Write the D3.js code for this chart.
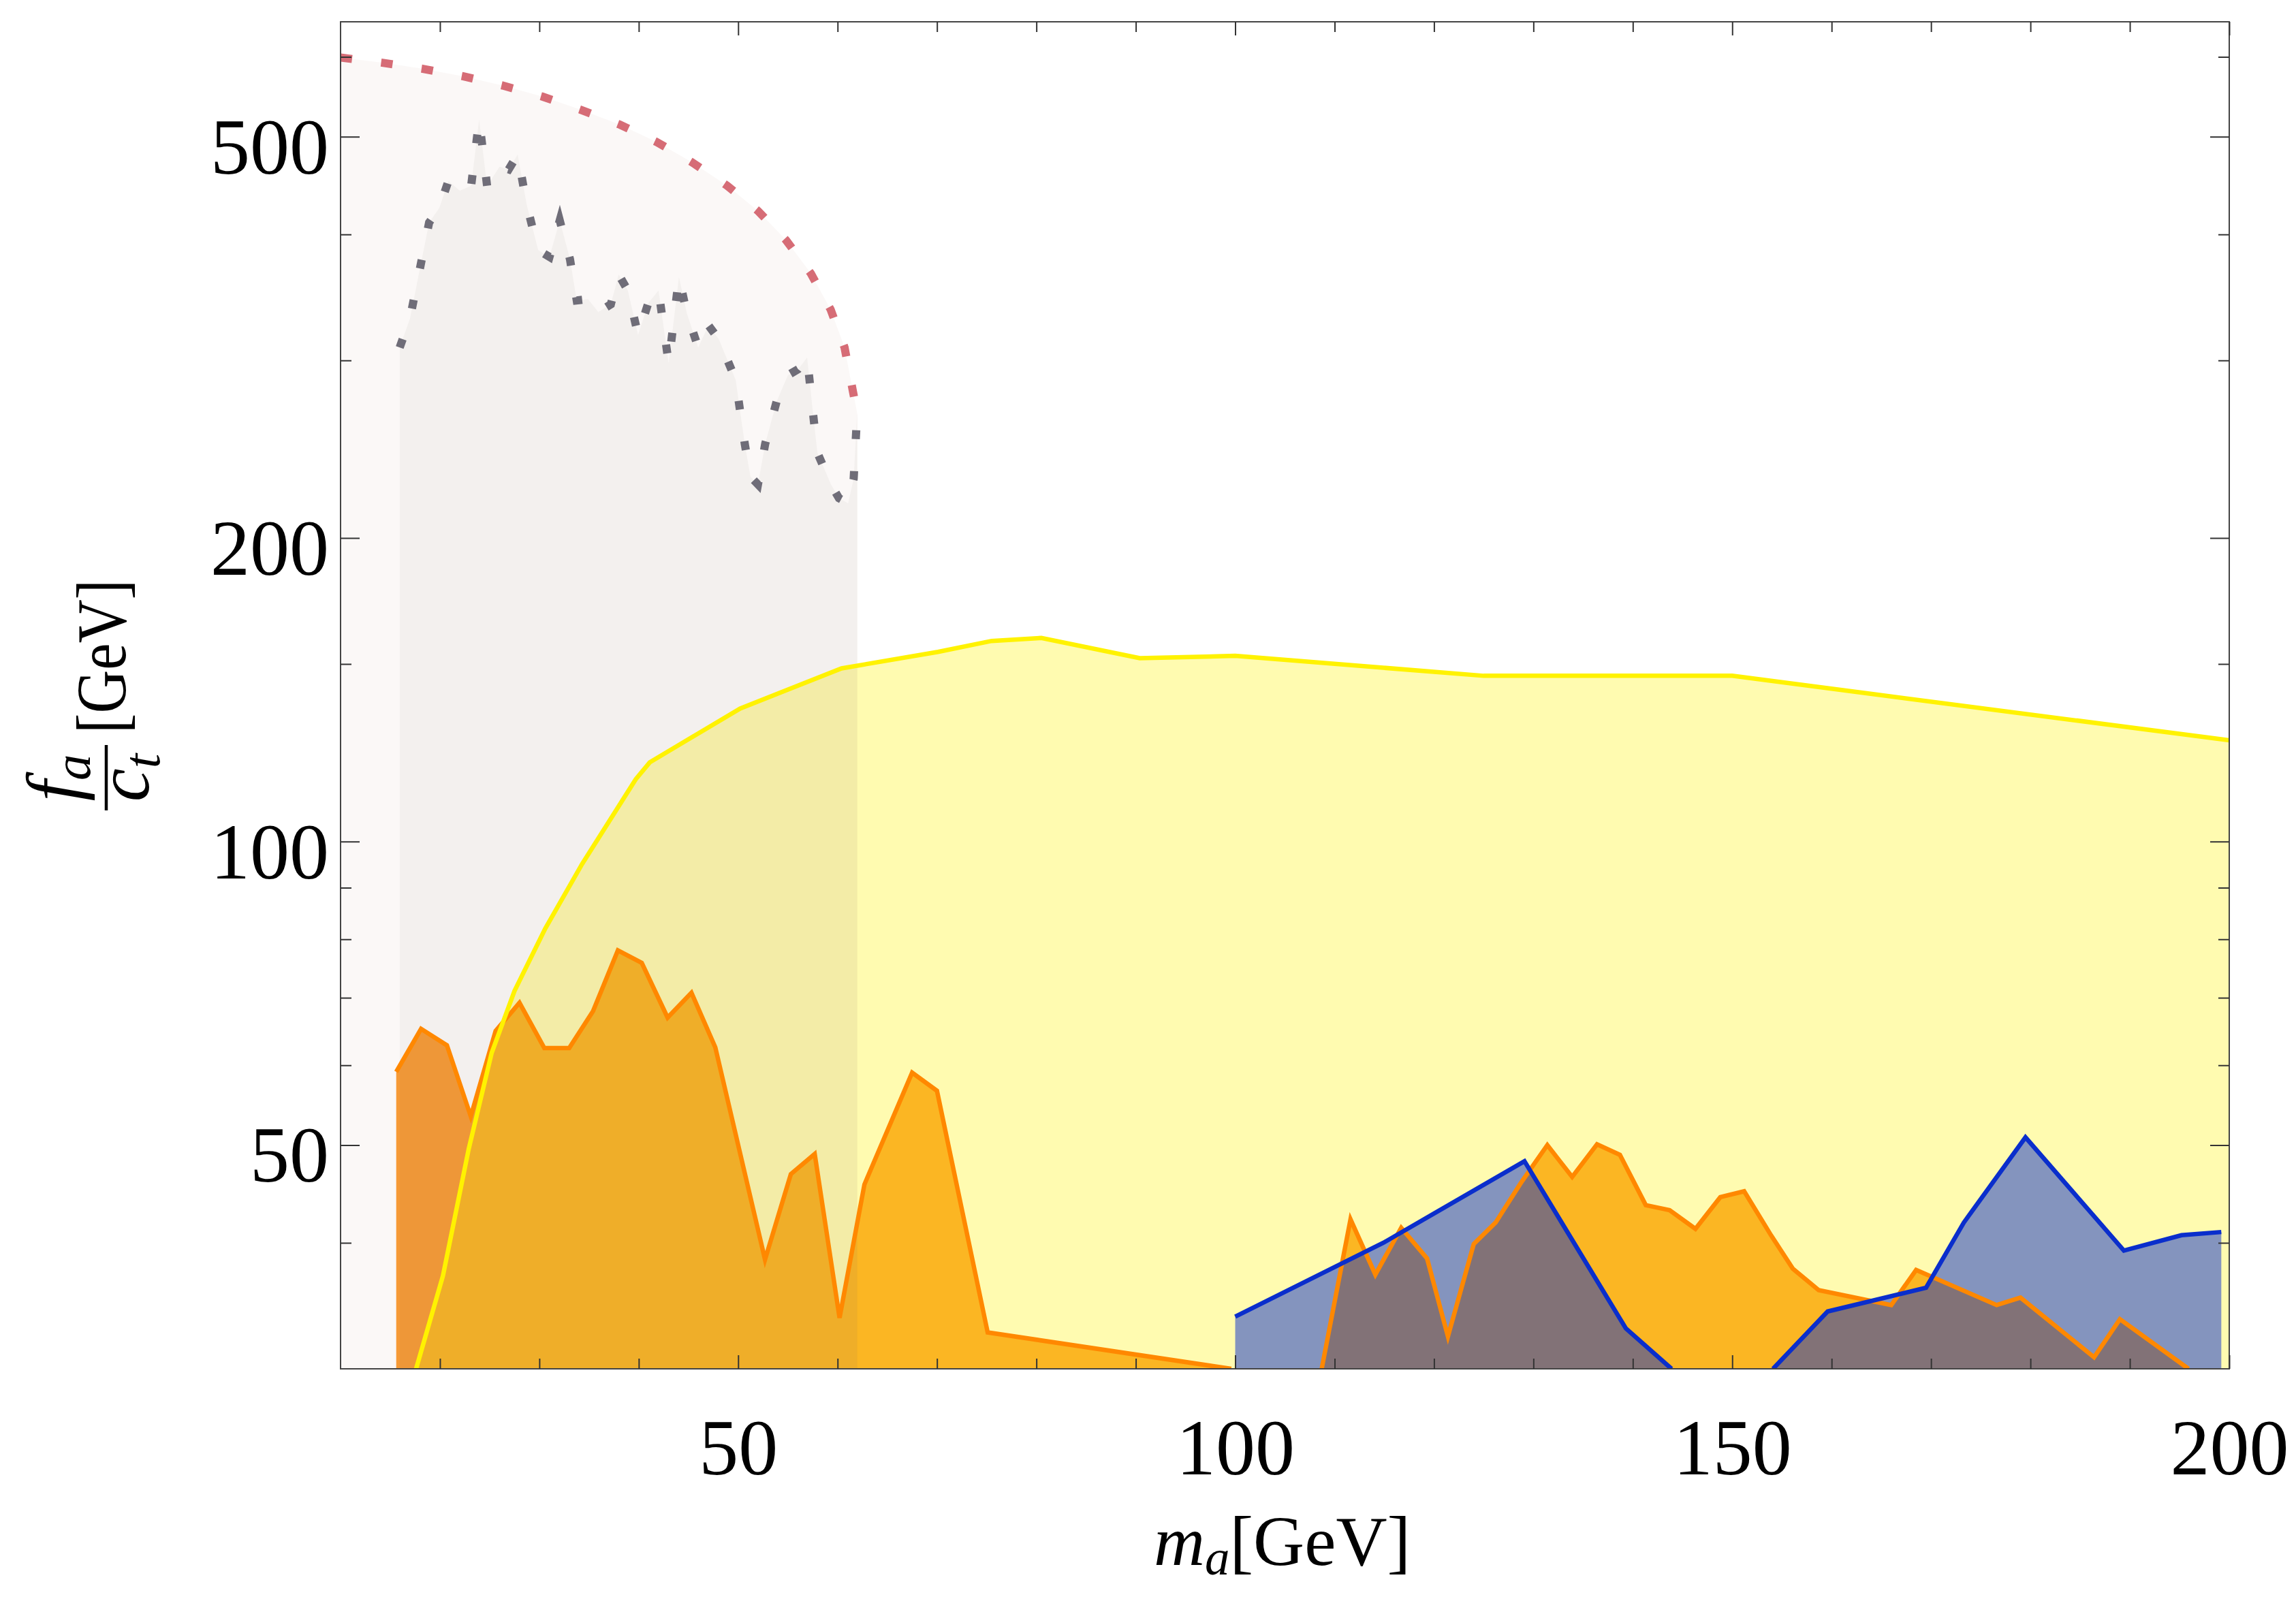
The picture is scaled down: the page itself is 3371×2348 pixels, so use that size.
<!DOCTYPE html>
<html>
<head>
<meta charset="utf-8">
<script src="https://cdn.jsdelivr.net/npm/d3@7"></script>
<style>
  html, body { margin: 0; padding: 0; background: #ffffff; }
  svg { display: block; }
</style>
</head>
<body>
<svg id="chart" width="3371" height="2348"></svg>
<script>
// Axis ranges and ticks
const xDomain = [10, 200];
const yDomain = [30, 650];
const xMajorTicks = [50, 100, 150, 200];
const xMinorTicks = [20, 30, 40, 60, 70, 80, 90, 110, 120, 130, 140, 160, 170, 180, 190];
const yMajorTicks = [50, 100, 200, 500];
const yMinorTicks = [40, 60, 70, 80, 90, 150, 300, 400, 600];

// Upper edge of the light pink region (red dotted boundary), [m_a, f_a/c_t]
const pinkBound = [
  [10, 599], [14.2, 592], [18.2, 584], [22.3, 574], [26.3, 562], [30.3, 548],
  [34.1, 532], [38.1, 514], [41.8, 494], [45.3, 472], [48.9, 447], [52.0, 422],
  [54.8, 395], [57.3, 366], [59.3, 337], [60.7, 309], [61.5, 281], [62.0, 265]
];

// Upper edge of the grey region (grey dotted boundary)
const greyBound = [
  [15.95, 309], [16.98, 330], [18.91, 411], [19.94, 425], [20.85, 452], [22.0, 442],
  [23.14, 447], [23.94, 520], [24.74, 447], [26.0, 467], [26.91, 464], [27.82, 480],
  [28.73, 428], [29.88, 386], [31.02, 380], [32.05, 413], [33.08, 378], [33.76, 344],
  [34.9, 345], [35.93, 335], [37.19, 341], [37.98, 365], [38.9, 352], [39.93, 318],
  [40.96, 342], [41.99, 352], [43.01, 298], [44.04, 363], [44.84, 334], [45.98, 309],
  [47.01, 325], [48.04, 315], [49.75, 287], [50.66, 248], [51.24, 230], [51.99, 226],
  [52.72, 248], [53.86, 273], [55.0, 290], [56.03, 294], [56.94, 302], [57.51, 267],
  [57.97, 243], [59.34, 226], [60.14, 219], [61.06, 216.5], [61.62, 229], [61.97, 266]
];

// Yellow exclusion curve
const yellowCurve = [
  [17.6, 30], [20.3, 37.1], [22.9, 49.6], [25.2, 61.7], [27.5, 71.1], [30.6, 82],
  [34.3, 95], [39.7, 115.3], [41.1, 119.8], [50.2, 135.5], [60.4, 148.5], [70.1, 154.2],
  [75.5, 158.1], [80.5, 159.2], [90.4, 152], [100, 152.8], [125, 146], [150, 146], [200, 126]
];

// Orange curve, low-mass and high-mass pieces
const orangeLow = [
  [15.6, 59.1], [18.1, 65.2], [20.7, 62.8], [23.1, 53.4], [25.6, 64.9], [28.0, 69.2],
  [30.5, 62.4], [33.0, 62.4], [35.4, 67.9], [37.9, 78.0], [40.3, 75.8], [42.9, 66.9],
  [45.3, 70.8], [47.7, 62.5], [52.7, 38.5], [55.3, 46.8], [57.7, 49.0], [60.2, 33.7],
  [62.7, 45.7], [67.5, 59.0], [70.0, 56.6], [75.1, 32.6], [99.6, 30]
];
const orangeHigh = [
  [108.7, 30], [111.6, 42.2], [114.1, 37.2], [116.7, 41.4], [119.3, 38.6], [121.4, 32.3],
  [124.0, 39.9], [126.2, 41.9], [128.7, 45.8], [131.4, 50.0], [133.9, 46.5], [136.4, 50.1],
  [138.7, 48.9], [141.3, 43.6], [143.7, 43.1], [146.3, 41.3], [148.8, 44.4], [151.2, 45.0],
  [153.9, 40.7], [156.1, 37.7], [158.7, 35.9], [166.0, 34.7], [168.5, 37.6], [176.6, 34.7],
  [179.0, 35.3], [186.4, 30.8], [189.0, 33.6], [195.9, 30]
];

// Blue curve, two pieces
const blueLow = [
  [100, 33.8], [114.9, 40.0], [129.1, 48.2], [139.3, 32.9], [143.9, 30]
];
const blueHigh = [
  [154.1, 30], [159.6, 34.2], [169.5, 36.1], [173.3, 41.9], [179.5, 50.9],
  [189.4, 39.3], [195.2, 40.7], [199.2, 41.0]
];

// ---------------------------------------------------------------
const plot = { left: 500, right: 3273, top: 32, bottom: 2010 };
const serif = "'Liberation Serif', 'DejaVu Serif', 'Times New Roman', serif";

const svg = d3.select("#chart");

const x = d3.scaleLinear().domain(xDomain).range([plot.left, plot.right]);
const y = d3.scaleLog().domain(yDomain).range([plot.bottom, plot.top]);

svg.append("defs").append("clipPath").attr("id", "plotClip")
  .append("rect")
  .attr("x", plot.left).attr("y", plot.top)
  .attr("width", plot.right - plot.left).attr("height", plot.bottom - plot.top);

const area = d3.area()
  .x(d => x(d[0]))
  .y0(y(yDomain[0]))
  .y1(d => y(d[1]));
const line = d3.line()
  .x(d => x(d[0]))
  .y(d => y(d[1]));

const layer = svg.append("g").attr("clip-path", "url(#plotClip)");

// Fills, bottom to top
[orangeLow, orangeHigh].forEach(s => {
  layer.append("path").attr("d", area(s)).attr("fill", "rgb(250,156,52)");
});
layer.append("path").attr("d", area(yellowCurve))
  .attr("fill", "rgb(255,242,0)").attr("fill-opacity", 0.31);
layer.append("path").attr("d", area(pinkBound))
  .attr("fill", "rgb(175,115,105)").attr("fill-opacity", 0.05);
layer.append("path").attr("d", area(greyBound))
  .attr("fill", "rgb(122,112,106)").attr("fill-opacity", 0.06);
[blueLow, blueHigh].forEach(s => {
  layer.append("path").attr("d", area(s))
    .attr("fill", "rgb(10,46,204)").attr("fill-opacity", 0.5);
});

// Boundary lines
[orangeLow, orangeHigh].forEach(s => {
  layer.append("path").attr("d", line(s)).attr("fill", "none")
    .attr("stroke", "#ff8800").attr("stroke-width", 6.5).attr("stroke-linejoin", "miter");
});
layer.append("path").attr("d", line(yellowCurve)).attr("fill", "none")
  .attr("stroke", "#fff200").attr("stroke-width", 6.5);
[blueLow, blueHigh].forEach(s => {
  layer.append("path").attr("d", line(s)).attr("fill", "none")
    .attr("stroke", "#0a2ecc").attr("stroke-width", 6.5);
});
layer.append("path").attr("d", line(pinkBound)).attr("fill", "none")
  .attr("stroke", "#d66c76").attr("stroke-width", 12)
  .attr("stroke-dasharray", "17 43").attr("stroke-linecap", "butt");
layer.append("path").attr("d", line(greyBound)).attr("fill", "none")
  .attr("stroke", "#6f6d78").attr("stroke-width", 12)
  .attr("stroke-dasharray", "13 47").attr("stroke-linecap", "butt");

// Frame
svg.append("rect")
  .attr("x", plot.left).attr("y", plot.top)
  .attr("width", plot.right - plot.left).attr("height", plot.bottom - plot.top)
  .attr("fill", "none").attr("stroke", "#444").attr("stroke-width", 2);

// Axes (inward ticks on all four sides)
function styleAxis(g) {
  g.select(".domain").remove();
  g.selectAll(".tick line").attr("stroke", "#333").attr("stroke-width", 2);
  g.attr("font-family", serif).attr("font-size", 116);
  g.selectAll(".tick text").attr("fill", "#000");
}

svg.append("g").attr("transform", `translate(0,${plot.bottom})`)
  .call(d3.axisBottom(x).tickValues(xMajorTicks).tickSize(-20).tickPadding(73).tickFormat(d3.format("d")))
  .call(styleAxis);
svg.append("g").attr("transform", `translate(0,${plot.bottom})`)
  .call(d3.axisBottom(x).tickValues(xMinorTicks).tickSize(-15).tickFormat(""))
  .call(styleAxis);
svg.append("g").attr("transform", `translate(0,${plot.top})`)
  .call(d3.axisTop(x).tickValues(xMajorTicks).tickSize(-20).tickFormat(""))
  .call(styleAxis);
svg.append("g").attr("transform", `translate(0,${plot.top})`)
  .call(d3.axisTop(x).tickValues(xMinorTicks).tickSize(-15).tickFormat(""))
  .call(styleAxis);

const leftMajor = svg.append("g").attr("transform", `translate(${plot.left},0)`)
  .call(d3.axisLeft(y).tickValues(yMajorTicks).tickSize(-28).tickPadding(17).tickFormat(d3.format("d")))
  .call(styleAxis);
leftMajor.selectAll(".tick text").attr("dy", "0.46em");
svg.append("g").attr("transform", `translate(${plot.left},0)`)
  .call(d3.axisLeft(y).tickValues(yMinorTicks).tickSize(-16).tickFormat(""))
  .call(styleAxis);
svg.append("g").attr("transform", `translate(${plot.right},0)`)
  .call(d3.axisRight(y).tickValues(yMajorTicks).tickSize(-28).tickFormat(""))
  .call(styleAxis);
svg.append("g").attr("transform", `translate(${plot.right},0)`)
  .call(d3.axisRight(y).tickValues(yMinorTicks).tickSize(-16).tickFormat(""))
  .call(styleAxis);

// x-axis title: m_a[GeV]
const xt = svg.append("text")
  .attr("x", (plot.left + plot.right) / 2 - 4).attr("y", 2298)
  .attr("text-anchor", "middle")
  .attr("font-family", serif).attr("font-size", 104).attr("fill", "#000");
xt.append("tspan").attr("font-style", "italic").text("m");
xt.append("tspan").attr("font-style", "italic").attr("font-size", 73).attr("dy", 14).text("a");
xt.append("tspan").attr("dy", -14).text("[GeV]");

// y-axis title: (f_a / c_t)[GeV], rotated
const yt = svg.append("g")
  .attr("transform", "translate(184,1190) rotate(-90)")
  .attr("font-family", serif).attr("fill", "#000");
yt.append("line")
  .attr("x1", 0).attr("x2", 96).attr("y1", -28).attr("y2", -28)
  .attr("stroke", "#000").attr("stroke-width", 4.5);
const num = yt.append("text").attr("x", 48).attr("y", -68)
  .attr("text-anchor", "middle").attr("font-size", 110);
num.append("tspan").attr("font-style", "italic").text("f");
num.append("tspan").attr("font-style", "italic").attr("font-size", 77).attr("dy", 16).text("a");
const den = yt.append("text").attr("x", 48).attr("y", 34)
  .attr("text-anchor", "middle").attr("font-size", 110);
den.append("tspan").attr("font-style", "italic").text("c");
den.append("tspan").attr("font-style", "italic").attr("font-size", 77).attr("dy", 16).text("t");
yt.append("text").attr("x", 113).attr("y", 0)
  .attr("font-size", 104)
  .attr("textLength", 226).attr("lengthAdjust", "spacingAndGlyphs")
  .text("[GeV]");
</script>
</body>
</html>
